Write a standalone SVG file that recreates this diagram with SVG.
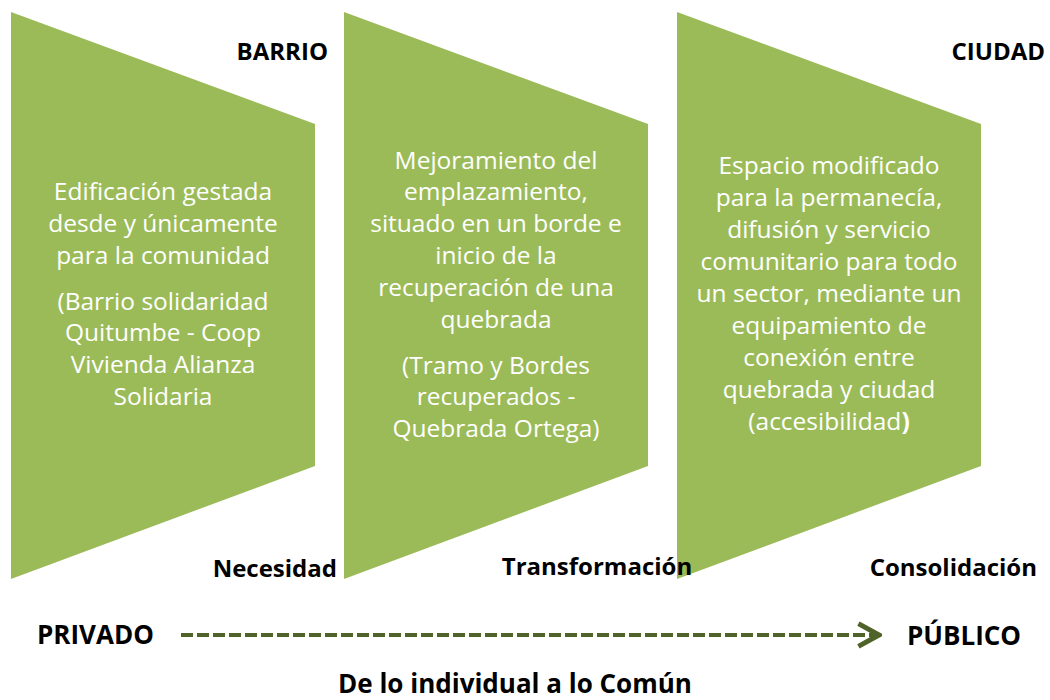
<svg xmlns="http://www.w3.org/2000/svg" width="1050" height="700" viewBox="0 0 1050 700">
<style>
.shape{fill:#9BBB59;}
.body{font-family:"Open Sans","DejaVu Sans",sans-serif;font-size:24.5px;fill:#FFFFFF;text-anchor:middle;}
.lbl{font-family:"Open Sans","DejaVu Sans",sans-serif;font-weight:bold;font-size:24px;fill:#000000;}
.big{font-family:"Open Sans","DejaVu Sans",sans-serif;font-weight:bold;font-size:26px;fill:#000000;}
.conn{stroke:#4F6228;stroke-width:4;fill:none;}
</style>
<defs>
<marker id="chev" markerUnits="userSpaceOnUse" markerWidth="26" markerHeight="28" refX="21" refY="12" orient="auto" viewBox="0 0 24 24">
<polyline points="2,1.5 21,12 2,22.5" fill="none" stroke="#4F6228" stroke-width="4.5"/>
</marker>
</defs>
<rect width="1050" height="700" fill="#FFFFFF"/>

<g id="node-barrio">
<polygon class="shape" points="11,12 315,124 315,466 11,579"/>
<text class="body"><tspan x="163" y="200">Edificación gestada</tspan><tspan x="163" y="232">desde y únicamente</tspan><tspan x="163" y="264">para la comunidad</tspan><tspan x="163" y="310">(Barrio solidaridad</tspan><tspan x="163" y="341">Quitumbe - Coop</tspan><tspan x="163" y="373">Vivienda Alianza</tspan><tspan x="163" y="405">Solidaria</tspan></text>
</g>

<g id="node-transformacion">
<polygon class="shape" points="344,12 648,124 648,466 344,579"/>
<text class="body"><tspan x="496" y="169">Mejoramiento del</tspan><tspan x="496" y="200">emplazamiento,</tspan><tspan x="496" y="232">situado en un borde e</tspan><tspan x="496" y="264">inicio de la</tspan><tspan x="496" y="296">recuperación de una</tspan><tspan x="496" y="328">quebrada</tspan><tspan x="496" y="374">(Tramo y Bordes</tspan><tspan x="496" y="405">recuperados -</tspan><tspan x="496" y="437">Quebrada Ortega)</tspan></text>
</g>

<g id="node-ciudad">
<polygon class="shape" points="677,12 981,124 981,466 677,579"/>
<text class="body"><tspan x="829" y="174">Espacio modificado</tspan><tspan x="829" y="206">para la permanecía,</tspan><tspan x="829" y="238">difusión y servicio</tspan><tspan x="829" y="270">comunitario para todo</tspan><tspan x="829" y="302">un sector, mediante un</tspan><tspan x="829" y="334">equipamiento de</tspan><tspan x="829" y="366">conexión entre</tspan><tspan x="829" y="398">quebrada y ciudad</tspan><tspan x="829" y="430">(accesibilidad<tspan font-weight="bold">)</tspan></tspan></text>
</g>

<g id="labels">
<text class="lbl" x="328" y="60" text-anchor="end">BARRIO</text>
<text class="lbl" x="1045" y="60" text-anchor="end">CIUDAD</text>
<text class="lbl" x="337" y="577" text-anchor="end">Necesidad</text>
<text class="lbl" x="597" y="575" text-anchor="middle">Transformación</text>
<text class="lbl" x="1037" y="576" text-anchor="end">Consolidación</text>
<text class="big" x="37" y="644">PRIVADO</text>
<text class="big" x="907" y="645">PÚBLICO</text>
<text class="big" x="515" y="693" text-anchor="middle" font-size="25">De lo individual a lo Común</text>
</g>

<g id="connectors">
<line class="conn" x1="181" y1="635" x2="879" y2="635" stroke-dasharray="12,4" marker-end="url(#chev)"/>
</g>
</svg>
